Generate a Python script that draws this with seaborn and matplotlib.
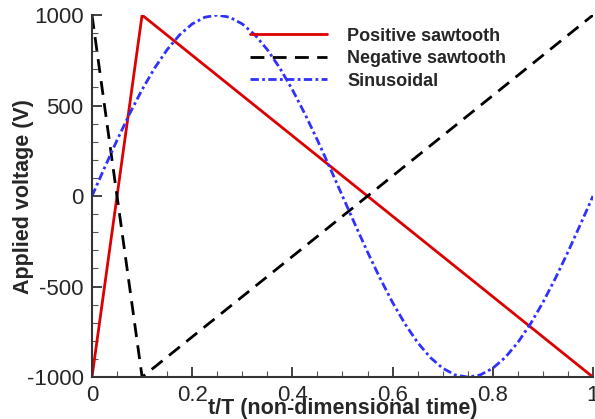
import matplotlib
matplotlib.use("Agg")
import matplotlib.pyplot as plt
import seaborn as sns
from matplotlib.ticker import MultipleLocator

sns.set_theme(style="ticks")
plt.rcParams['font.family'] = ['Liberation Sans', 'DejaVu Sans']
plt.rcParams['axes.unicode_minus'] = False

# Data
pos_t = [0.0, 0.1, 1.0]
pos_v = [-1000, 1000, -1000]
neg_t = [0.0, 0.1, 1.0]
neg_v = [1000, -1000, 1000]
sin_t = [i * 0.025 for i in range(41)]
sin_v = [0, 156, 309, 454, 588, 707, 809, 891, 951, 988, 1000,
         988, 951, 891, 809, 707, 588, 454, 309, 156, 0,
         -156, -309, -454, -588, -707, -809, -891, -951, -988, -1000,
         -988, -951, -891, -809, -707, -588, -454, -309, -156, 0]
x_ticks = [0, 0.2, 0.4, 0.6, 0.8, 1.0]
x_tick_labels = ["0", "0.2", "0.4", "0.6", "0.8", "1"]

fig = plt.figure(figsize=(5.95, 4.19), dpi=100)
ax = fig.add_axes([0.1546, 0.100, 0.842, 0.864])

sns.lineplot(x=pos_t, y=pos_v, ax=ax, color="#dd0000", linewidth=2,
             label="Positive sawtooth", sort=False)
sns.lineplot(x=neg_t, y=neg_v, ax=ax, color="black", linewidth=2,
             label="Negative sawtooth", sort=False)
sns.lineplot(x=sin_t, y=sin_v, ax=ax, color="#3030ff", linewidth=2,
             label="Sinusoidal", sort=False)
ax.lines[1].set_dashes([5, 3])
ax.lines[2].set_dashes([3, 1.2, 1, 1.2])

ax.set_xlim(0, 1)
ax.set_ylim(-1000, 1000)
ax.set_xticks(x_ticks)
ax.set_xticklabels(x_tick_labels)
ax.xaxis.set_minor_locator(MultipleLocator(0.05))
ax.yaxis.set_major_locator(MultipleLocator(500))
ax.yaxis.set_minor_locator(MultipleLocator(100))
ax.tick_params(axis='both', which='major', direction='in', length=7, width=1.3,
               labelsize=16, color='#333333')
ax.tick_params(axis='y', which='major', pad=6)
ax.tick_params(axis='x', which='major', pad=6)
ax.tick_params(axis='both', which='minor', direction='in', length=4, width=0.8,
               color='#555555')
for s in ['top', 'right']:
    ax.spines[s].set_visible(False)
for s in ['left', 'bottom']:
    ax.spines[s].set_linewidth(1.5)
    ax.spines[s].set_color('#333333')

ax.set_xlabel("t/T (non-dimensional time)", fontsize=15.5, fontweight='bold', labelpad=-6)
ax.set_ylabel("Applied voltage (V)", fontsize=15.5, fontweight='bold')
ax.yaxis.set_label_coords(-0.116, 0.5)

leg = ax.legend(loc='upper left', bbox_to_anchor=(0.315, 0.965), frameon=False,
                prop={'weight': 'bold', 'size': 13}, handlelength=4.3,
                handletextpad=1.1, labelspacing=0.3, borderaxespad=0,
                borderpad=0)

fig.savefig("out.png", dpi=100)
